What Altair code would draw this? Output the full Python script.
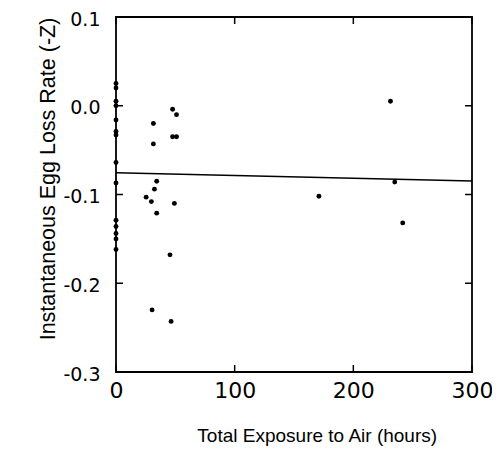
import altair as alt
import pandas as pd

# Points lying on x = 0 (left axis)
zero_x_rates = [0.025, 0.020, 0.005, 0.000, -0.016, -0.029, -0.033, -0.064,
                -0.087, -0.129, -0.136, -0.144, -0.150, -0.162]

# Remaining points
other_hours = [47.7, 51.0, 31.5, 47.7, 51.0, 31.5, 34.3, 32.4, 25.4, 29.8,
               49.2, 34.3, 45.5, 30.4, 46.4, 231.3, 234.9, 171.0, 241.6]
other_rates = [-0.004, -0.010, -0.020, -0.035, -0.035, -0.043, -0.085, -0.094,
               -0.103, -0.108, -0.110, -0.121, -0.168, -0.230, -0.243,
               0.005, -0.086, -0.102, -0.132]

# Regression line end points
line_hours = [0, 300]
line_rates = [-0.0755, -0.0848]

x_ticks = [0, 100, 200, 300]
y_ticks = [-0.3, -0.2, -0.1, 0.0, 0.1]

W, H = 356, 355
TL = 7  # inward tick length

pts = pd.DataFrame({
    "hours": [0.0] * len(zero_x_rates) + other_hours,
    "rate": zero_x_rates + other_rates,
})
line_df = pd.DataFrame({"hours": line_hours, "rate": line_rates})
xt = pd.DataFrame({"hours": x_ticks})
yt = pd.DataFrame({"rate": y_ticks})

xscale = alt.Scale(domain=[0, 300], nice=False, zero=False)
yscale = alt.Scale(domain=[-0.3, 0.1], nice=False, zero=False)

x_axis = alt.Axis(
    values=x_ticks, title="Total Exposure to Air (hours)", domain=False,
    ticks=False, grid=False, labelFont="DejaVu Sans", labelFontSize=22,
    labelColor="black", labelPadding=8, labelFlush=False,
    titleFont="Liberation Sans", titleFontSize=19, titleFontWeight="normal",
    titleColor="black", titleX=200.7, titleY=69.7, titleBaseline="alphabetic",
    titleAlign="center",
)
y_axis = alt.Axis(
    values=y_ticks, title="Instantaneous Egg Loss Rate (-Z)", domain=False,
    ticks=False, grid=False, labelFont="DejaVu Sans", labelFontSize=19,
    labelColor="black", labelPadding=16, labelFlush=False,
    labelBaseline="middle", labelOffset=2,
    labelExpr="replace(format(datum.value, '.1f'), '\u2212', '-')",
    titleFont="Liberation Sans", titleFontSize=21.5, titleFontWeight="normal",
    titleColor="black", titleX=-62, titleY=161.5, titleAngle=270,
    titleBaseline="alphabetic", titleAlign="center",
)

points = alt.Chart(pts).mark_circle(size=24, color="black", opacity=1).encode(
    x=alt.X("hours:Q", scale=xscale, axis=x_axis),
    y=alt.Y("rate:Q", scale=yscale, axis=y_axis),
)

reg = alt.Chart(line_df).mark_line(color="black", strokeWidth=1.6).encode(
    x=alt.X("hours:Q", scale=xscale),
    y=alt.Y("rate:Q", scale=yscale),
)

left_ticks = alt.Chart(yt).mark_rule(color="black", strokeWidth=1.5).encode(
    y=alt.Y("rate:Q", scale=yscale), x=alt.value(0), x2=alt.value(TL))
right_ticks = alt.Chart(yt).mark_rule(color="black", strokeWidth=1.5).encode(
    y=alt.Y("rate:Q", scale=yscale), x=alt.value(W - TL), x2=alt.value(W))
top_ticks = alt.Chart(xt).mark_rule(color="black", strokeWidth=1.5).encode(
    x=alt.X("hours:Q", scale=xscale), y=alt.value(0), y2=alt.value(TL))
bottom_ticks = alt.Chart(xt).mark_rule(color="black", strokeWidth=1.5).encode(
    x=alt.X("hours:Q", scale=xscale), y=alt.value(H - TL), y2=alt.value(H))

chart = alt.layer(
    reg, left_ticks, right_ticks, top_ticks, bottom_ticks, points
).properties(
    width=W, height=H,
    autosize=alt.AutoSizeParams(type="none"),
    padding={"left": 108, "top": 9, "right": 20, "bottom": 80},
    background="white",
).configure_view(
    stroke="black", strokeWidth=1.8
)

chart.save("out.html", embed_options={"renderer": "svg", "actions": False})
